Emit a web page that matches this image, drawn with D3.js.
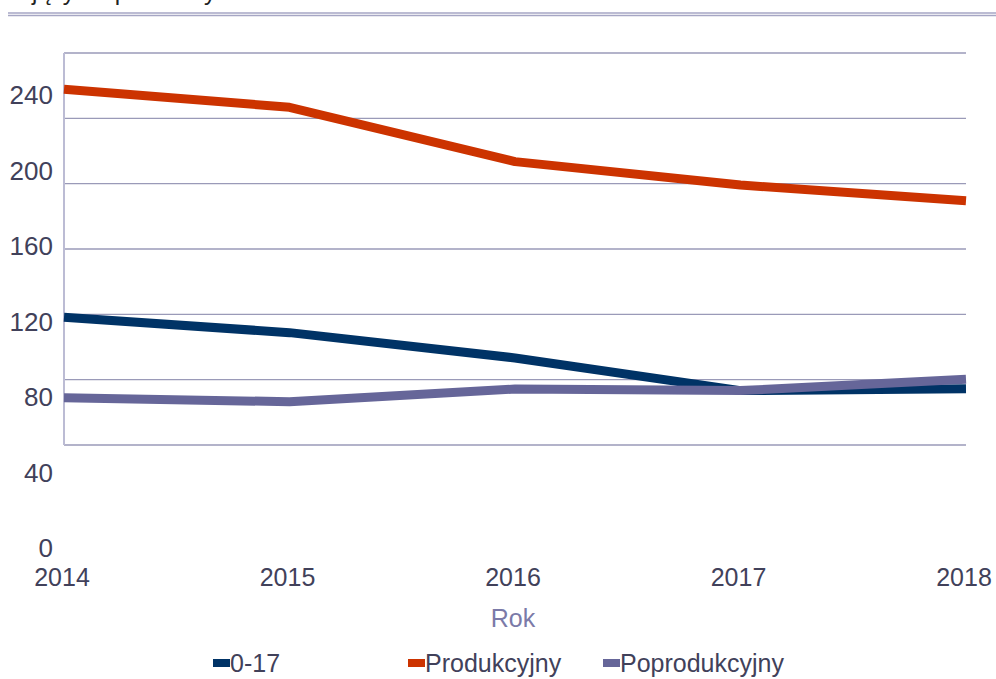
<!DOCTYPE html>
<html>
<head>
<meta charset="utf-8">
<script src="https://cdnjs.cloudflare.com/ajax/libs/d3/7.8.5/d3.min.js"></script>
<style>
body { margin: 0; background: #fff; }
svg text { font-family: "Liberation Sans", Arial, sans-serif; }
</style>
</head>
<body>
<svg id="chart" width="996" height="679"></svg>
<script>
// values
var years = ["2014", "2015", "2016", "2017", "2018"];
var young = [122.2, 114.1, 100.7, 83.4, 84.4];
var working = [243.0, 233.5, 204.7, 192.3, 184.0];
var old = [79.6, 77.5, 84.2, 83.4, 89.4];
var yTicks = [0, 40, 80, 120, 160, 200, 240];
var seriesNames = ["0-17", "Produkcyjny", "Poprodukcyjny"];
var colors = ["#003366", "#cc3300", "#666699"];

var svg = d3.select("#chart");

// cut-off title at the very top (only descenders show)
svg.append("text")
    .attr("x", -56).attr("y", 0)
    .attr("font-size", 24).attr("fill", "#222")
    .text("Mieszkający na pozostałych");

svg.append("line").attr("x1", 8).attr("x2", 996).attr("y1", 13).attr("y2", 13)
    .attr("stroke", "#a6a6c4").attr("stroke-width", 1.5);
svg.append("line").attr("x1", 8).attr("x2", 996).attr("y1", 15.5).attr("y2", 15.5)
    .attr("stroke", "#a6a6c4").attr("stroke-width", 1.5);

var x = d3.scalePoint().domain(years).range([64, 966]);
var y = d3.scaleLinear().domain([0, 240]).range([548, 95]);
// the frame grid is drawn on its own even spacing
var grid = d3.scaleLinear().domain([0, 6]).range([445, 53]);

svg.append("g").selectAll("line")
    .data(d3.range(0, 7))
  .enter().append("line")
    .attr("x1", 64).attr("x2", 966)
    .attr("y1", function(d) { return grid(d); })
    .attr("y2", function(d) { return grid(d); })
    .attr("stroke", "#9a9ab8").attr("stroke-width", 1.3);

svg.append("line").attr("x1", 64).attr("x2", 64)
    .attr("y1", grid(6)).attr("y2", grid(0))
    .attr("stroke", "#bcbcd4").attr("stroke-width", 2);

svg.append("g").selectAll("text")
    .data(yTicks)
  .enter().append("text")
    .attr("x", 53)
    .attr("y", function(d) { return y(d); })
    .attr("dy", "0.35em")
    .attr("text-anchor", "end")
    .attr("font-size", 26)
    .attr("fill", "#41415a")
    .text(function(d) { return d; });

svg.append("g").selectAll("text")
    .data(years)
  .enter().append("text")
    .attr("x", function(d) { return x(d) - 2; })
    .attr("y", 577)
    .attr("dy", "0.35em")
    .attr("text-anchor", "middle")
    .attr("font-size", 25)
    .attr("fill", "#41415a")
    .text(function(d) { return d; });

svg.append("text")
    .attr("x", 513).attr("y", 618).attr("dy", "0.35em")
    .attr("text-anchor", "middle")
    .attr("font-size", 25).attr("fill", "#7b7aa8")
    .text("Rok");

var line = d3.line()
    .x(function(d, i) { return x(years[i]); })
    .y(function(d) { return y(d); });

[young, working, old].forEach(function(s, i) {
    svg.append("path")
        .attr("d", line(s))
        .attr("fill", "none")
        .attr("stroke", colors[i])
        .attr("stroke-width", 9)
        .attr("stroke-linejoin", "round");
});

// legend
var legendX = [213, 408, 603];
var legend = svg.append("g").selectAll("g")
    .data(seriesNames)
  .enter().append("g")
    .attr("transform", function(d, i) { return "translate(" + legendX[i] + ",663)"; });

legend.append("rect")
    .attr("x", 0).attr("y", -4).attr("width", 17).attr("height", 8)
    .attr("fill", function(d, i) { return colors[i]; });

legend.append("text")
    .attr("x", 17).attr("dy", "0.35em")
    .attr("font-size", 25).attr("fill", "#41415a")
    .text(function(d) { return d; });
</script>
</body>
</html>
